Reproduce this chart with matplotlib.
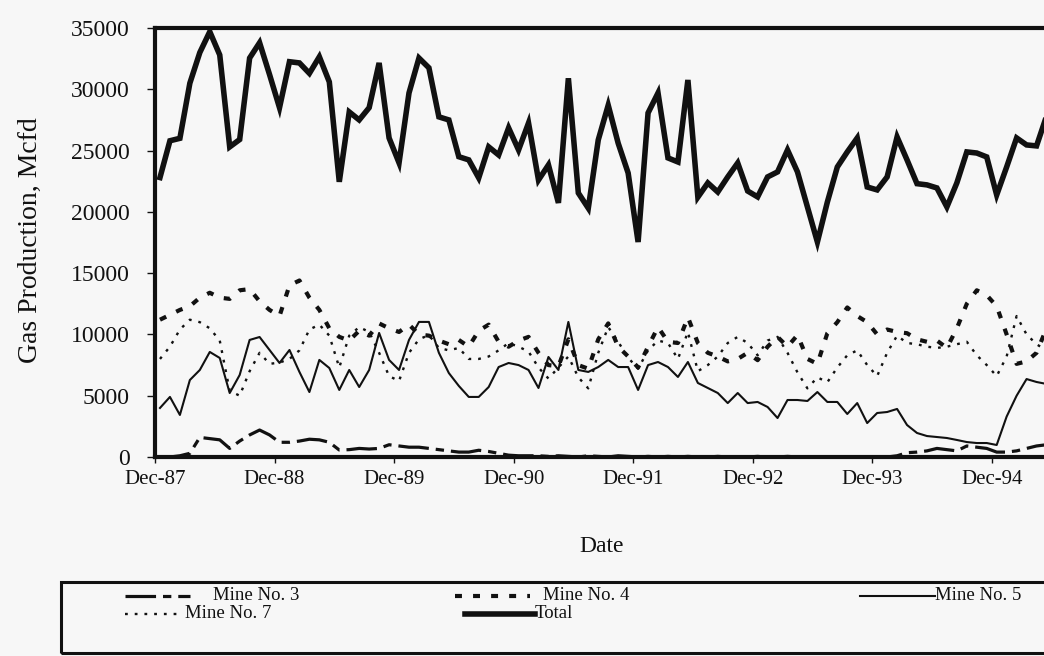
import matplotlib.pyplot as plt
import numpy as np
from matplotlib.patches import Rectangle
from matplotlib.lines import Line2D

plt.rcParams['font.family'] = ['Liberation Serif', 'DejaVu Serif']
plt.rcParams['lines.scale_dashes'] = False

# monthly gas production, Mcfd
tick_labels = ["Dec-87", "Dec-88", "Dec-89", "Dec-90", "Dec-91", "Dec-92", "Dec-93", "Dec-94"]

total = [22800, 25800, 26000, 30500, 33000, 34700, 32800, 25300, 25900, 32550,
         33800, 31200, 28500, 32250, 32150, 31300, 32650, 30600, 22450, 28150,
         27500, 28500, 32150, 26030, 24000, 29700, 32550, 31750, 27750, 27500,
         24500, 24240, 22770, 25300, 24640, 26850, 25050, 27250, 22600, 23830,
         20730, 30900, 21540, 20300, 25870, 28700, 25600, 23170, 17540, 28070,
         29700, 24400, 24070, 30760, 21200, 22360, 21620, 22850, 23990, 21700,
         21220, 22850, 23260, 25050, 23260, 20400, 17540, 20800, 23660, 24890,
         26030, 22030, 21790, 22850, 26110, 24240, 22300, 22200, 21950, 20400,
         22360, 24890, 24800, 24480, 21380, 23660, 26030, 25460, 25380, 27800]

mine5 = [4000, 4900, 3430, 6280, 7100, 8570, 8080, 5220, 6690, 9550,
         9790, 8730, 7670, 8730, 6940, 5300, 7920, 7260, 5470, 7100,
         5710, 7100, 10120, 7920, 7100, 9550, 11020, 11020, 8500, 6850,
         5800, 4900, 4900, 5710, 7340, 7670, 7500, 7100, 5630, 8160,
         7100, 11020, 7100, 6940, 7340, 7920, 7340, 7340, 5470, 7500,
         7750, 7340, 6530, 7750, 6040, 5630, 5220, 4400, 5220, 4400,
         4490, 4080, 3180, 4650, 4650, 4570, 5300, 4490, 4490, 3510,
         4400, 2770, 3590, 3670, 3920, 2610, 1960, 1710, 1630, 1550,
         1390, 1220, 1140, 1140, 980, 3300, 5000, 6360, 6120, 5960]

mine4 = [11200, 11600, 12000, 12300, 13000, 13400, 13000, 12900, 13600, 13700,
         12700, 12000, 11500, 14000, 14400, 13000, 12000, 10500, 9800, 9500,
         10300, 9900, 10900, 10500, 10200, 10800, 10000, 9900, 9500, 9200,
         9550, 9000, 10300, 10800, 9400, 9000, 9500, 9800, 8500, 7500,
         7400, 9600, 7500, 7200, 9600, 10900, 9000, 8200, 7300, 9000,
         10600, 9400, 9300, 11400, 9300, 8500, 8200, 7800, 8000, 8500,
         7900, 9000, 9800, 9000, 9950, 8000, 7600, 10100, 11000, 12200,
         11500, 11000, 10000, 10400, 10200, 10100, 9600, 9400, 9500, 8900,
         10500, 12500, 13600, 13200, 12300, 10000, 7600, 7800, 8500, 10500]

mine7 = [8000, 9000, 10400, 11200, 11000, 10500, 9500, 5400, 5000, 7000,
         8500, 7600, 7700, 8000, 8700, 10400, 10800, 9900, 7300, 9900,
         10600, 10200, 8500, 6600, 6200, 8500, 9600, 9950, 8900, 8700,
         8900, 8000, 8000, 8200, 8700, 9300, 9000, 8600, 7300, 6400,
         7300, 8200, 6500, 5600, 8500, 10600, 9400, 8100, 7200, 8700,
         9500, 9300, 8000, 10200, 7000, 7500, 8200, 9300, 9800, 9300,
         8300, 9500, 9800, 8500, 6900, 5600, 6500, 6100, 7300, 8300,
         8700, 7500, 6600, 8500, 9900, 9300, 9200, 9000, 8900, 9000,
         9200, 9400, 8300, 7500, 6600, 8200, 11500, 10000, 9200, 8700]

mine3 = [0, 0, 100, 300, 1600, 1500, 1400, 700, 1300, 1800,
         2200, 1800, 1200, 1200, 1300, 1450, 1400, 1200, 570, 600,
         700, 650, 700, 1000, 900, 800, 800, 700, 600, 500,
         400, 400, 550, 450, 300, 150, 100, 100, 100, 50,
         100, 50, 0, 100, 50, 0, 100, 50, 0, 50,
         0, 50, 0, 50, 0, 0, 50, 0, 0, 0,
         50, 0, 0, 50, 0, 0, 0, 0, 0, 0,
         0, 0, 0, 0, 100, 350, 400, 500, 700, 600,
         500, 900, 800, 700, 400, 400, 500, 700, 900, 1000]

months = np.arange(len(total))

bg = '#f7f7f7'
ink = '#111111'

styles = {
    'Mine No. 3': dict(lw=2.3, dashes=(22, 5, 6, 5), color=ink),
    'Mine No. 4': dict(lw=3.0, dashes=(5, 8), color=ink),
    'Mine No. 5': dict(lw=1.5, color=ink),
    'Mine No. 7': dict(lw=1.7, dashes=(2, 5), color=ink),
    'Total': dict(lw=4.0, color=ink),
}

fig = plt.figure(figsize=(10.44, 6.56), dpi=100, facecolor=bg)
ax = fig.add_axes([155 / 1044, 1 - 457 / 656, (1044 - 155) / 1044, (457 - 28) / 656])
ax.set_facecolor(bg)

ax.plot(months, mine3, **styles['Mine No. 3'])
ax.plot(months, mine4, **styles['Mine No. 4'])
ax.plot(months, mine7, **styles['Mine No. 7'])
ax.plot(months, mine5, **styles['Mine No. 5'])
ax.plot(months, total, solid_joinstyle='miter', **styles['Total'])

ax.set_xlim(-0.5, 88.75)
ax.set_ylim(0, 35000)
ax.set_xticks([-0.5 + 12 * k for k in range(len(tick_labels))])
ax.set_xticklabels(tick_labels)
ax.set_yticks(np.arange(0, 35001, 5000))
ax.tick_params(axis='both', direction='out', width=1, colors=ink)
ax.tick_params(axis='y', labelsize=17, length=6, pad=12)
ax.tick_params(axis='x', labelsize=15, length=4, pad=5)

for side in ['left', 'top', 'bottom']:
    ax.spines[side].set_linewidth(3)
    ax.spines[side].set_color(ink)
ax.spines['right'].set_visible(False)

fig.text(30 / 1044, 1 - 240 / 656, 'Gas Production, Mcfd', rotation=90,
         ha='center', va='center', fontsize=20, color=ink)
fig.text(602 / 1044, 1 - 547 / 656, 'Date', ha='center', va='center', fontsize=17, color=ink)

# legend box (cut off on the right like the scan)
fig.add_artist(Rectangle((61 / 1044, 3 / 656), 1.0, 71 / 656, transform=fig.transFigure,
                         fill=False, lw=2.2, edgecolor=ink, clip_on=False))

entries = [('Mine No. 3', 125, 190, 213, 596),
           ('Mine No. 4', 455, 530, 543, 596),
           ('Mine No. 5', 860, 935, 935, 596),
           ('Mine No. 7', 125, 183, 185, 614),
           ('Total', 465, 535, 535, 614)]
for name, x0, x1, xt, y in entries:
    yf = 1 - y / 656
    fig.add_artist(Line2D([x0 / 1044, x1 / 1044], [yf, yf], transform=fig.transFigure,
                          **styles[name]))
    fig.text(xt / 1044, yf, name, ha='left', va='center', fontsize=13.5, color=ink)

fig.savefig('out.png', dpi=100, facecolor=bg)
